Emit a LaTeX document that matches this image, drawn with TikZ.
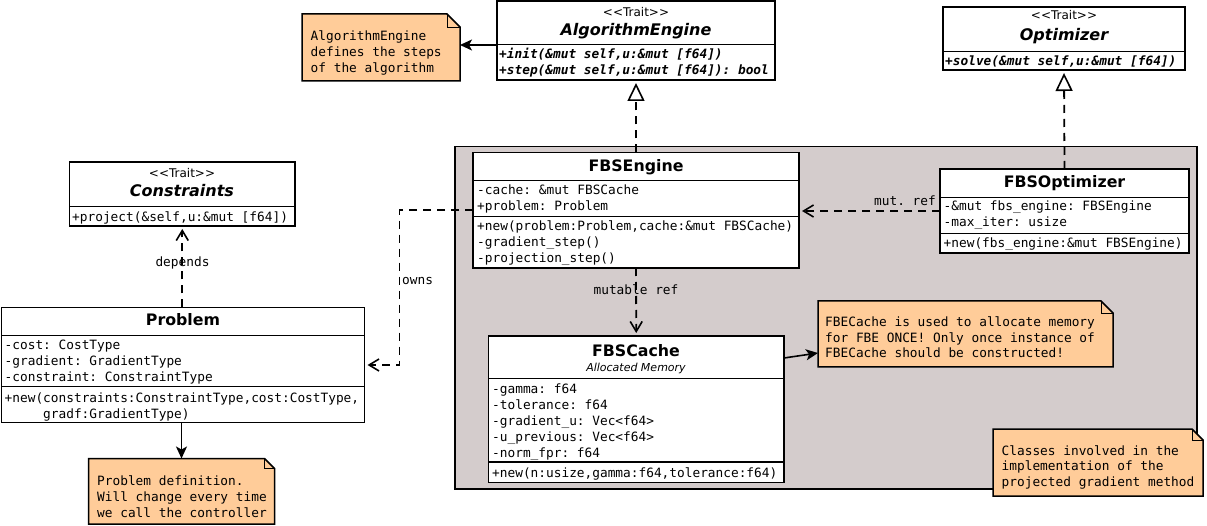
\documentclass[tikz,border=0pt]{standalone}
\usepackage{fontspec}
\setmainfont{DejaVu Sans}
\setmonofont{DejaVu Sans Mono}
\usetikzlibrary{arrows.meta,calc}
\definecolor{notefill}{RGB}{255,204,153}
\definecolor{pkgfill}{RGB}{212,204,204}
\newcommand\dognote[2]{%
  \draw[line width=1.5pt,fill=notefill] (#1.north west) -- ([xshift=-#2]#1.north east) -- ([yshift=-#2]#1.north east) -- (#1.south east) -- (#1.south west) -- cycle;
  \draw[line width=0.8pt] ([xshift=-#2]#1.north east) -- ([xshift=-#2,yshift=-#2]#1.north east) -- ([yshift=-#2]#1.north east);}
\newcommand\trait{<\kern0pt<Trait>\kern0pt>}
\begin{document}
\begin{tikzpicture}[x=1pt,y=-1pt,
  cls/.style={draw,line width=1.6pt,fill=white,anchor=north west,inner sep=0,outer sep=0},
  nt/.style={anchor=north west,inner sep=0,outer sep=0},
  sepl/.style={line width=1.6pt},
  mono/.style={font=\fontsize{12.8}{16}\selectfont\ttfamily,anchor=base west,inner sep=0},
  monoit/.style={mono,font=\fontsize{12.8}{16}\selectfont\ttfamily\bfseries\itshape},
  ttl/.style={font=\fontsize{15.8}{18}\selectfont\bfseries,anchor=base,inner sep=0},
  ttlit/.style={ttl,font=\fontsize{16}{18}\selectfont\bfseries\itshape},
  stereo/.style={font=\fontsize{12}{14}\selectfont,anchor=base,inner sep=0},
  subt/.style={font=\fontsize{11}{13}\selectfont\itshape,anchor=base,inner sep=0},
  lbl/.style={font=\fontsize{12.8}{16}\selectfont\ttfamily,inner sep=0},
  dsh/.style={line width=1.8pt,dash pattern=on 8pt off 6pt},
  inh/.style={-{Triangle[open,length=18pt,width=17pt,line width=1.6pt]},shorten >=3pt},
  dep/.style={-{Straight Barb[length=10pt,width=12pt,line width=1.6pt]},shorten >=3pt},
  sol/.style={line width=1.6pt,-{Stealth[length=12pt,width=11pt,inset=3pt]}}
]
\useasboundingbox (0,0) rectangle (1207,526);

% package background
\node[draw,line width=1.5pt,fill=pkgfill,anchor=north west,inner sep=0,minimum width=742,minimum height=342] (pkg) at (454,146) {};

% class boxes
\node[cls,minimum width=278,minimum height=79] (ae) at (497,1) {};
\node[cls,minimum width=242,minimum height=63] (opt) at (943,7) {};
\node[cls,minimum width=326,minimum height=115.5] (fbse) at (473,152.5) {};
\node[cls,minimum width=249,minimum height=84] (fbso) at (940,169) {};
\node[cls,minimum width=295.5,minimum height=146.5] (fbsc) at (488.5,336) {};
\node[cls,minimum width=225.5,minimum height=64] (cons) at (69.5,162) {};
\node[cls,minimum width=363,minimum height=115] (prob) at (1.5,307.5) {};

% separators
\draw[sepl] (ae.west |- 0,44.5) -- (ae.east |- 0,44.5);
\draw[sepl] (opt.west |- 0,51.5) -- (opt.east |- 0,51.5);
\draw[sepl] (fbse.west |- 0,180.5) -- (fbse.east |- 0,180.5);
\draw[sepl] (fbse.west |- 0,216.5) -- (fbse.east |- 0,216.5);
\draw[sepl] (fbso.west |- 0,197.5) -- (fbso.east |- 0,197.5);
\draw[sepl] (fbso.west |- 0,233.5) -- (fbso.east |- 0,233.5);
\draw[sepl] (fbsc.west |- 0,378.5) -- (fbsc.east |- 0,378.5);
\draw[sepl] (fbsc.west |- 0,462) -- (fbsc.east |- 0,462);
\draw[sepl] (cons.west |- 0,206.5) -- (cons.east |- 0,206.5);
\draw[sepl] (prob.west |- 0,335.5) -- (prob.east |- 0,335.5);
\draw[sepl] (prob.west |- 0,386.5) -- (prob.east |- 0,386.5);

% notes
\node[nt,minimum width=158,minimum height=67] (an) at (302,14) {};
\node[nt,minimum width=295,minimum height=66] (fbn) at (818,301) {};
\node[nt,minimum width=186,minimum height=65.5] (pn) at (88.5,458.5) {};
\dognote{an}{13pt}
\dognote{fbn}{12pt}
\dognote{pn}{10pt}

% connectors
\draw[dsh,inh] (fbse.north) -- (ae.south);
\draw[dsh,inh] (fbso.north) -- (opt.south);
\draw[dsh,dep] (fbso.west) -- (fbso.west -| fbse.east);
\draw[dsh,dep] (fbse.south) -- (fbsc.north);
\draw[dsh,dep] (fbse.west) -- ++(-73.5,0) |- (prob.east);
\draw[dsh,dep] (prob.north -| cons.south) -- (cons.south);
\draw[sol] (prob.south -| pn.north) -- (pn.north);
\draw[sol] ([yshift=-22pt]fbsc.north east) -- ([yshift=-52pt]fbn.north west);
\draw[sol] ([yshift=-44pt]ae.north west) -- ([yshift=-31pt]an.north east);

% connector labels
\node[lbl,anchor=base east] (l1) at (936,206) {mut. ref};
\node[lbl,anchor=base] (l2) at (636,295) {mutable ref};
\node[lbl,anchor=base west] (l3) at (402,284.5) {owns};
\node[lbl,anchor=base] (l4) at (182.5,267) {depends};

% AlgorithmEngine
\node[stereo] (t1) at (636,17) {\trait};
\node[ttlit] (t2) at (636,36) {AlgorithmEngine};
\node[monoit] (t3) at (499,59) {+init(\&mut self,u:\&mut [f64])};
\node[monoit] (t4) at (499,75) {+step(\&mut self,u:\&mut [f64]): bool};

% Optimizer
\node[stereo] (t5) at (1064,20) {\trait};
\node[ttlit] (t6) at (1064,40.5) {Optimizer};
\node[monoit] (t7) at (945,65.5) {+solve(\&mut self,u:\&mut [f64])};

% FBSEngine
\node[ttl] (t8) at (636,172) {FBSEngine};
\node[mono] (t9) at (477,195) {-cache: \&mut FBSCache};
\node[mono] (t10) at (477,211) {+problem: Problem};
\node[mono] (t11) at (477,231) {+new(problem:Problem,cache:\&mut FBSCache)};
\node[mono] (t12) at (477,247) {-gradient\_step()};
\node[mono] (t13) at (477,263) {-projection\_step()};

% FBSOptimizer
\node[ttl] (t14) at (1064.5,188) {FBSOptimizer};
\node[mono] (t15) at (943.5,211) {-\&mut fbs\_engine: FBSEngine};
\node[mono] (t16) at (943.5,227) {-max\_iter: usize};
\node[mono] (t17) at (943.5,247.5) {+new(fbs\_engine:\&mut FBSEngine)};

% FBSCache
\node[ttl] (t18) at (636,356) {FBSCache};
\node[subt] (t19) at (636,372) {Allocated Memory};
\node[mono] (t20) at (492,393) {-gamma: f64};
\node[mono] (t21) at (492,409) {-tolerance: f64};
\node[mono] (t22) at (492,425) {-gradient\_u: Vec<f64>};
\node[mono] (t23) at (492,441) {-u\_previous: Vec<f64>};
\node[mono] (t24) at (492,457) {-norm\_fpr: f64};
\node[mono] (t25) at (492,477) {+new(n:usize,gamma:f64,tolerance:f64)};

% Constraints
\node[stereo] (t26) at (182,178) {\trait};
\node[ttlit] (t27) at (182,197) {Constraints};
\node[mono] (t28) at (72,221.5) {+project(\&self,u:\&mut [f64])};

% Problem
\node[ttl] (t29) at (183,326) {Problem};
\node[mono] (t30) at (4.5,349.5) {-cost: CostType};
\node[mono] (t31) at (4.5,365.5) {-gradient: GradientType};
\node[mono] (t32) at (4.5,381.5) {-constraint: ConstraintType};
\node[mono] (t33) at (4.5,402.5) {+new(constraints:ConstraintType,cost:CostType,};
\node[mono] (t34) at (43,418) {gradf:GradientType)};

% note texts
\node[mono] (n1) at (310.5,40.5) {AlgorithmEngine};
\node[mono] (n2) at (310.5,56.5) {defines the steps};
\node[mono] (n3) at (310.5,72.5) {of the algorithm};
\node[mono] (n4) at (825,327) {FBECache is used to allocate memory};
\node[mono] (n5) at (825,342.5) {for FBE ONCE! Only once instance of};
\node[mono] (n6) at (825,358) {FBECache should be constructed!};
\node[mono] (n7) at (97,485) {Problem definition.};
\node[mono] (n8) at (97,501) {Will change every time};
\node[mono] (n9) at (97,517) {we call the controller};

% classes note (over package border)
\node[nt,minimum width=210,minimum height=67] (cn) at (993,429) {};
\dognote{cn}{11pt}
\node[mono] (n10) at (1001.5,455) {Classes involved in the};
\node[mono] (n11) at (1001.5,470.5) {implementation of the};
\node[mono] (n12) at (1001.5,486) {projected gradient method};
\end{tikzpicture}
\end{document}
